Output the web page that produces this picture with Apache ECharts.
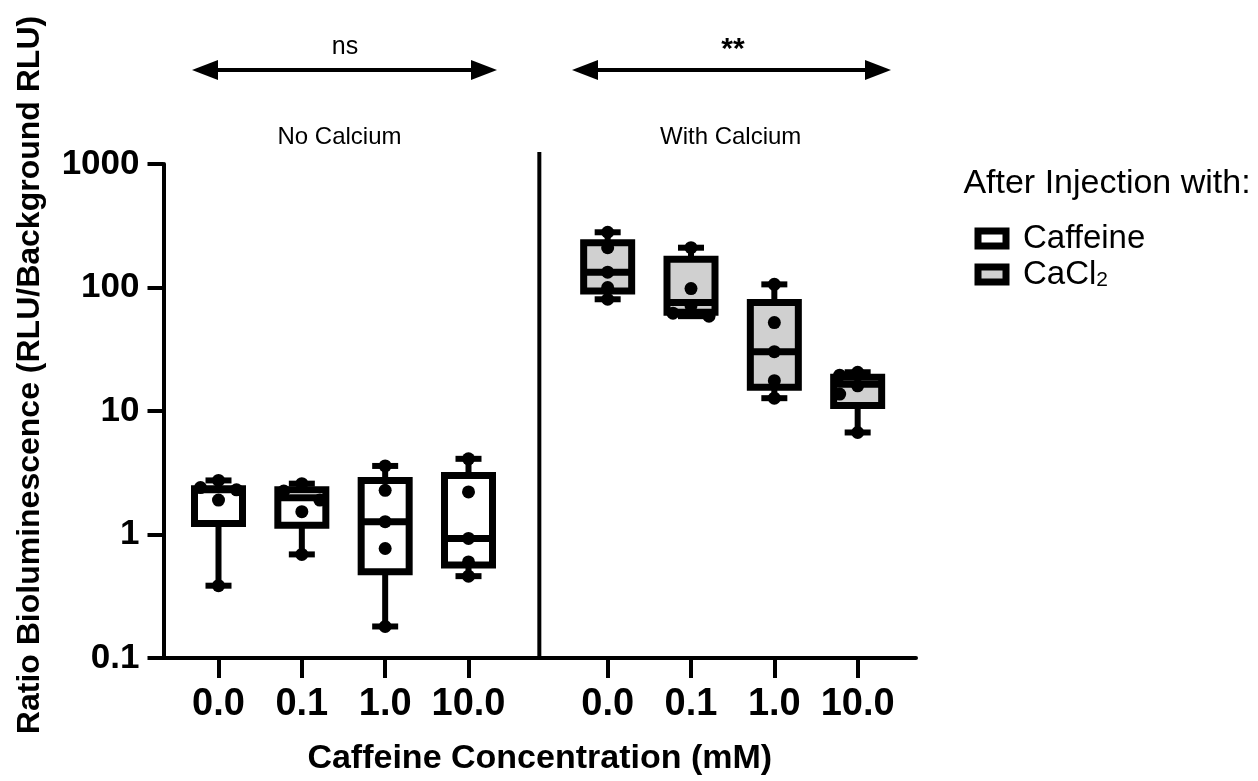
<!DOCTYPE html>
<html>
<head>
<meta charset="utf-8">
<script src="https://cdn.jsdelivr.net/npm/echarts@6.0.0/dist/echarts.min.js"></script>
<style>
  html, body { margin: 0; padding: 0; background: #fff; }
  #main { width: 1258px; height: 781px; }
</style>
</head>
<body>
<div id="main"></div>
<script>
// caffeine concentration groups, left = no calcium, right = with calcium
const concLabels = ['0.0', '0.1', '1.0', '10.0'];
const groupNames = ['No Calcium', 'With Calcium'];
const significance = ['ns', '**'];
const seriesNames = ['Caffeine', 'CaCl2'];

// box stats: [min, Q1, median, Q3, max]
const caffeineBox = [
  [0.385, 1.23, 2.3, 2.35, 2.74],
  [0.69, 1.19, 1.98, 2.3, 2.58],
  [0.18, 0.50, 1.27, 2.74, 3.59],
  [0.46, 0.565, 0.93, 3.01, 4.1]
];
const cacl2Box = [
  [80.3, 93.7, 133, 230, 280],
  [58.6, 63, 75.5, 169, 210],
  [12.7, 15.6, 30.2, 75.5, 106],
  [6.7, 11.1, 16.5, 18.8, 20.6]
];

// individual replicates
const caffeinePts = [
  [2.74, 2.4, 2.3, 1.9, 0.385],
  [2.58, 2.25, 1.9, 1.53, 0.69],
  [3.59, 2.28, 1.27, 0.77, 0.18],
  [4.1, 2.21, 0.93, 0.6, 0.46]
];
const cacl2Pts = [
  [280, 210, 133, 99.8, 80.3],
  [210, 98, 71, 62, 58.6],
  [106, 52, 30.2, 17.6, 12.7],
  [20.6, 19.5, 16, 13.7, 6.7]
];

const yTicks = [0.1, 1, 10, 100, 1000];

// layout on the x value axis (one unit = one box slot)
const groupShift = 4.67;
const xLeft = concLabels.map((c, i) => i + 1);
const xRight = concLabels.map((c, i) => i + 1 + groupShift);
const xAll = xLeft.concat(xRight);
const dividerX = 4.85;

const FONT = 'Liberation Sans, Arial, Helvetica, sans-serif';

function boxData(xs, stats) {
  return stats.map((s, i) => [xs[i]].concat(s));
}

function pointData(xs, pts) {
  var out = [];
  pts.forEach(function (vals, g) {
    var sorted = vals.slice().sort(function (a, b) { return b - a; });
    var k = 0;
    sorted.forEach(function (v, j) {
      if (j > 0 && Math.log10(sorted[j - 1]) - Math.log10(v) < 0.08) k++;
      else k = 0;
      var side = [0, -1, 1, -2, 2][k] || 0;
      out.push({ value: [xs[g], v], symbolOffset: [side * 18, 0] });
    });
  });
  return out;
}

function renderBox(params, api) {
  var x = api.value(0);
  var p = [1, 2, 3, 4, 5].map(function (d) { return api.coord([x, api.value(d)]); });
  var cx = p[0][0];
  var half = 24, cap = 13;
  var fill = api.visual('color');
  var line = { stroke: '#000', lineWidth: 6 };
  return {
    type: 'group',
    children: [
      { type: 'line', shape: { x1: cx, y1: p[4][1], x2: cx, y2: p[3][1] }, style: line },
      { type: 'line', shape: { x1: cx, y1: p[0][1], x2: cx, y2: p[1][1] }, style: line },
      { type: 'line', shape: { x1: cx - cap, y1: p[4][1], x2: cx + cap, y2: p[4][1] }, style: line },
      { type: 'line', shape: { x1: cx - cap, y1: p[0][1], x2: cx + cap, y2: p[0][1] }, style: line },
      { type: 'rect', shape: { x: cx - half, y: p[3][1], width: half * 2, height: p[1][1] - p[3][1] },
        style: { fill: fill, stroke: '#000', lineWidth: 7 } },
      { type: 'line', shape: { x1: cx - half, y1: p[2][1], x2: cx + half, y2: p[2][1] }, style: { stroke: '#000', lineWidth: 7 } }
    ]
  };
}

function arrow(id, x1, x2, y) {
  return {
    type: 'group', id: id,
    children: [
      { type: 'line', shape: { x1: x1 + 10, y1: y, x2: x2 - 10, y2: y }, style: { stroke: '#000', lineWidth: 4 } },
      { type: 'polygon', shape: { points: [[x1, y], [x1 + 26, y - 10], [x1 + 26, y + 10]] }, style: { fill: '#000' } },
      { type: 'polygon', shape: { points: [[x2, y], [x2 - 26, y - 10], [x2 - 26, y + 10]] }, style: { fill: '#000' } }
    ]
  };
}

function txt(id, x, y, text, size, weight) {
  return {
    type: 'text', id: id, x: x, y: y,
    style: { text: text, fontSize: size, fontWeight: weight || 'normal', fontFamily: FONT, fill: '#000',
      align: 'center', verticalAlign: 'middle', textAlign: 'center', textVerticalAlign: 'middle' }
  };
}

var chart = echarts.init(document.getElementById('main'));

var option = {
  backgroundColor: '#fff',
  animation: false,
  grid: { left: 163.5, right: 342, top: 164, bottom: 121.5 },
  xAxis: {
    type: 'value',
    min: 0.34,
    max: 9.37,
    splitLine: { show: false },
    axisLine: { onZero: false, lineStyle: { color: '#000', width: 4 } },
    axisTick: { customValues: xAll, length: 20, lineStyle: { color: '#000', width: 4 } },
    axisLabel: {
      customValues: xAll,
      margin: 28,
      color: '#000',
      fontSize: 38,
      fontWeight: 'bold',
      fontFamily: FONT,
      formatter: function (v) {
        var i = xAll.findIndex(function (p) { return Math.abs(p - v) < 0.01; });
        return i < 0 ? '' : concLabels[i % concLabels.length];
      }
    },
    name: 'Caffeine Concentration (mM)',
    nameLocation: 'middle',
    nameGap: 84,
    nameTextStyle: { color: '#000', fontSize: 34, fontWeight: 'bold', fontFamily: FONT }
  },
  yAxis: {
    type: 'log',
    logBase: 10,
    min: yTicks[0],
    max: yTicks[yTicks.length - 1],
    splitLine: { show: false },
    axisLine: { show: true, lineStyle: { color: '#000', width: 4 } },
    axisTick: { show: true, length: 16, lineStyle: { color: '#000', width: 4 } },
    axisLabel: {
      margin: 24,
      color: '#000',
      fontSize: 35,
      fontWeight: 'bold',
      fontFamily: FONT,
      formatter: function (v) { return String(+v.toPrecision(6)); }
    }
  },
  legend: {
    orient: 'vertical',
    left: 969.5,
    top: 217,
    itemWidth: 28,
    itemHeight: 15,
    itemGap: 3,
    textStyle: {
      color: '#000', fontSize: 33, fontFamily: FONT, padding: [0, 0, 0, 12],
      rich: { sub: { fontSize: 21, fontFamily: FONT, color: '#000', verticalAlign: 'bottom', padding: [12, 0, 0, 0] } }
    },
    formatter: function (name) { return name === 'CaCl2' ? 'CaCl{sub|2}' : name; },
    data: [
      { name: seriesNames[0], icon: 'rect', itemStyle: { color: '#fff', borderColor: '#000', borderWidth: 7 } },
      { name: seriesNames[1], icon: 'rect', itemStyle: { color: '#d0d0d0', borderColor: '#000', borderWidth: 7 } }
    ]
  },
  series: [
    {
      name: seriesNames[0], type: 'custom', renderItem: renderBox,
      itemStyle: { color: '#fff' },
      encode: { x: 0, y: [1, 2, 3, 4, 5] },
      data: boxData(xLeft, caffeineBox), z: 2
    },
    {
      name: seriesNames[1], type: 'custom', renderItem: renderBox,
      itemStyle: { color: '#d0d0d0' },
      encode: { x: 0, y: [1, 2, 3, 4, 5] },
      data: boxData(xRight, cacl2Box), z: 2
    },
    {
      name: 'pts', type: 'scatter', symbolSize: 13, z: 5,
      itemStyle: { color: '#000', opacity: 1 },
      data: pointData(xLeft, caffeinePts).concat(pointData(xRight, cacl2Pts))
    }
  ]
};
chart.setOption(option);

// divider and annotations placed from the axis scales
var divTop = chart.convertToPixel({ xAxisIndex: 0, yAxisIndex: 0 }, [dividerX, yTicks[yTicks.length - 1]]);
var divBot = chart.convertToPixel({ xAxisIndex: 0, yAxisIndex: 0 }, [dividerX, yTicks[0]]);
var gL = chart.convertToPixel({ xAxisIndex: 0, yAxisIndex: 0 }, [(xLeft[0] + xLeft[3]) / 2, 1]);
var gR = chart.convertToPixel({ xAxisIndex: 0, yAxisIndex: 0 }, [(xRight[0] + xRight[3]) / 2, 1]);

chart.setOption({
  graphic: [
    { type: 'line', id: 'divider', shape: { x1: divTop[0], y1: divTop[1] - 12, x2: divBot[0], y2: divBot[1] },
      style: { stroke: '#000', lineWidth: 4 } },
    arrow('arrL', 192, 497, 70),
    arrow('arrR', 572, 891, 70),
    txt('sigL', 345, 47, significance[0], 25),
    txt('sigR', 733, 50, significance[1], 30, 'bold'),
    txt('grpL', gL[0] - 4, 137, groupNames[0], 24),
    txt('grpR', gR[0] - 2, 137, groupNames[1], 24),
    txt('legTitle', 1107, 184, 'After Injection with:', 34),
    {
      type: 'text', id: 'yName', x: 30, y: 375, rotation: Math.PI / 2,
      style: { text: 'Ratio Bioluminescence (RLU/Background RLU)', fontSize: 32, fontWeight: 'bold', fontFamily: FONT,
        fill: '#000', align: 'center', verticalAlign: 'middle', textAlign: 'center', textVerticalAlign: 'middle' }
    }
  ]
});
</script>
</body>
</html>
